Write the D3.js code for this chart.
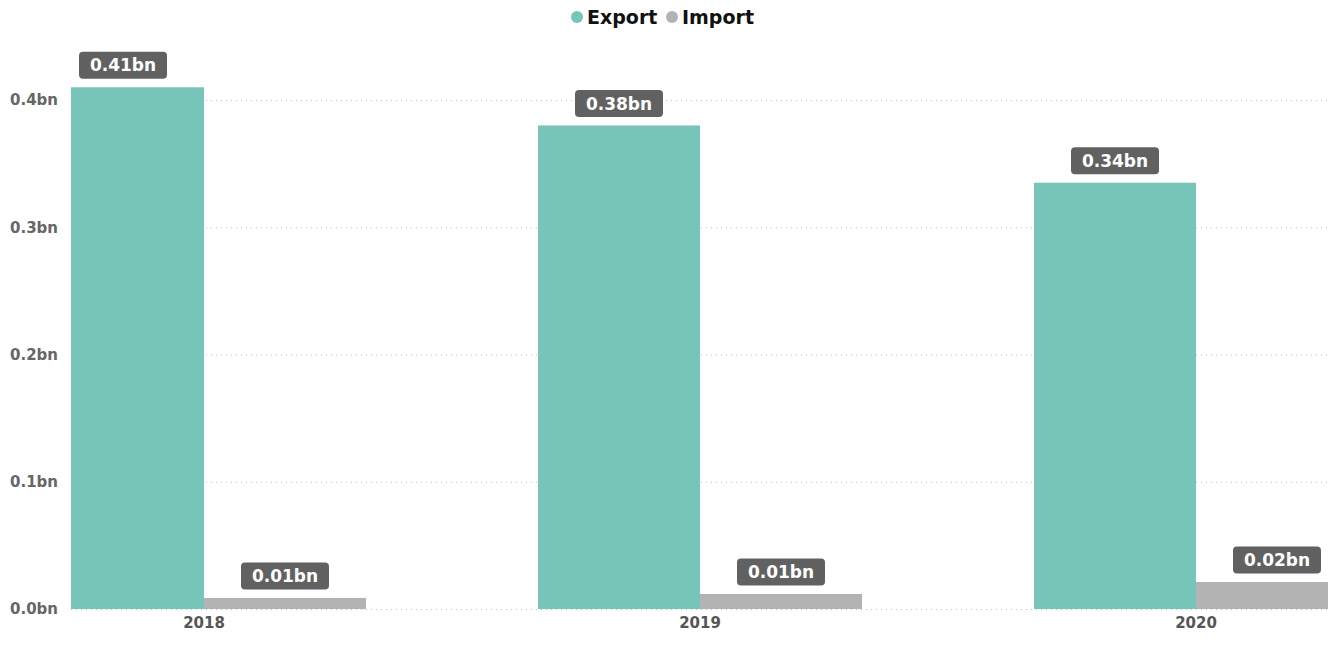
<!DOCTYPE html>
<html>
<head>
<meta charset="utf-8">
<script src="https://cdn.jsdelivr.net/npm/d3@7"></script>
<style>
  body { margin: 0; background: #fff; }
  svg { font-family: "DejaVu Sans", "Segoe UI", sans-serif; }
</style>
</head>
<body>
<svg id="chart" width="1340" height="645"></svg>
<script>
let years = ['2018', '2019', '2020']
let seriesNames = ['Export', 'Import']
let exportValues = [0.41, 0.38, 0.335]
let importValues = [0.0087, 0.0118, 0.0212]
let yTicks = [0, 0.1, 0.2, 0.3, 0.4]

let colors = { Export: '#77c4b9', Import: '#b3b3b3' }

let svg = d3.select('#chart')

let plotLeft = 71
let plotRight = 1330

let x = d3.scaleBand()
    .domain(years)
    .range([-44, 1444])
    .paddingInner(0.3468)
    .paddingOuter(0.1734)

let xInner = d3.scaleBand()
    .domain(seriesNames)
    .range([0, x.bandwidth()])

let y = d3.scaleLinear()
    .domain([0, 0.4])
    .range([609, 100])

// dotted grid
svg.append('g')
    .selectAll('line')
    .data(yTicks)
    .enter()
    .append('line')
    .attr('x1', plotLeft)
    .attr('x2', plotRight)
    .attr('y1', (d) => y(d) + 0.5)
    .attr('y2', (d) => y(d) + 0.5)
    .attr('stroke', '#bdbdbd')
    .attr('stroke-width', 1)
    .attr('stroke-dasharray', '1,4')

// y axis labels
let yAxis = d3.axisLeft(y)
    .tickValues(yTicks)
    .tickFormat((d) => d3.format('.1f')(d) + 'bn')
    .tickSize(0)
    .tickPadding(0)

svg.append('g')
    .attr('transform', 'translate(58,0)')
    .call(yAxis)
    .call((g) => g.select('.domain').remove())
    .selectAll('text')
    .attr('font-family', '"DejaVu Sans", sans-serif')
    .attr('font-size', 15)
    .attr('font-weight', 'bold')
    .attr('fill', '#666')

svg.append('clipPath')
    .attr('id', 'plotClip')
    .append('rect')
    .attr('x', plotLeft)
    .attr('y', 0)
    .attr('width', plotRight - plotLeft - 2)
    .attr('height', 645)

let rows = []
years.forEach((yr, i) => {
    rows.push({ year: yr, key: 'Export', value: exportValues[i] })
    rows.push({ year: yr, key: 'Import', value: importValues[i] })
})

svg.append('g')
    .attr('clip-path', 'url(#plotClip)')
    .selectAll('rect')
    .data(rows)
    .enter()
    .append('rect')
    .attr('x', (d) => x(d.year) + xInner(d.key))
    .attr('width', xInner.bandwidth())
    .attr('y', (d) => y(d.value))
    .attr('height', (d) => y(0) - y(d.value))
    .attr('fill', (d) => colors[d.key])

// value labels
let labels = svg.append('g')
    .selectAll('g')
    .data(rows)
    .enter()
    .append('g')
    .attr('transform', (d) => 'translate(' + (x(d.year) + xInner(d.key) + xInner.bandwidth() / 2) + ',' + (y(d.value) - 22) + ')')

labels.append('rect')
    .attr('x', -44)
    .attr('y', -13.5)
    .attr('width', 88)
    .attr('height', 27)
    .attr('rx', 4)
    .attr('fill', '#616161')

labels.append('text')
    .text((d) => d3.format('.2f')(d.value) + 'bn')
    .attr('text-anchor', 'middle')
    .attr('dy', '0.36em')
    .attr('font-size', 17)
    .attr('font-weight', 'bold')
    .attr('fill', '#fff')

// x axis labels
let xAxis = d3.axisBottom(x).tickSize(0).tickPadding(0)
svg.append('g')
    .attr('transform', 'translate(0,617)')
    .call(xAxis)
    .call((g) => g.select('.domain').remove())
    .selectAll('text')
    .attr('font-family', '"DejaVu Sans", sans-serif')
    .attr('font-size', 15)
    .attr('font-weight', 'bold')
    .attr('fill', '#555')

// legend
let legend = svg.append('g')
let legendX = { Export: 577, Import: 672 }
seriesNames.forEach((name) => {
    let item = legend.append('g').attr('transform', 'translate(' + legendX[name] + ',17)')
    item.append('circle').attr('r', 6).attr('fill', colors[name])
    item.append('text')
        .text(name)
        .attr('x', 10)
        .attr('dy', '0.36em')
        .attr('font-size', 19)
        .attr('font-weight', 'bold')
        .attr('fill', '#111')
})
</script>
</body>
</html>
